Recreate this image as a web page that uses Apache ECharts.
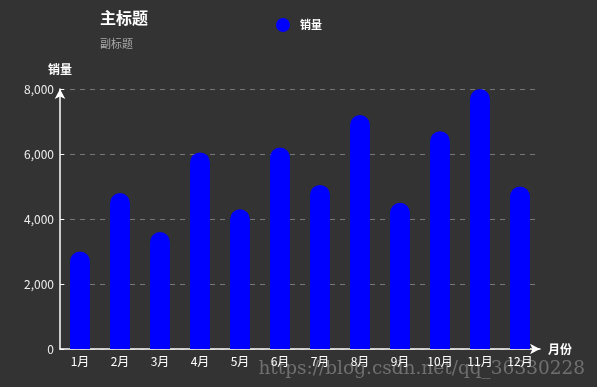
<!DOCTYPE html>
<html>
<head>
<meta charset="utf-8">
<script src="https://cdn.jsdelivr.net/npm/echarts@6/dist/echarts.min.js"></script>
<style>html,body{margin:0;padding:0;background:#333;}#main{width:597px;height:387px;}</style>
</head>
<body>
<div id="main"></div>
<script>
var categories = ['1月','2月','3月','4月','5月','6月','7月','8月','9月','10月','11月','12月'];
var salesValues = [3000, 4800, 3600, 6050, 4300, 6200, 5050, 7200, 4500, 6700, 8000, 5000];
var yTicks = [0, 2000, 4000, 6000, 8000];

var chart = echarts.init(document.getElementById('main'));
var font = '"Noto Sans CJK SC", "Noto Sans", sans-serif';
chart.setOption({
  backgroundColor: '#333',
  animation: false,
  textStyle: { fontFamily: font },
  title: {
    text: '主标题', subtext: '副标题', left: 95, top: 5,
    itemGap: 12,
    textStyle: { color: '#fff', fontSize: 16, fontWeight: 'bold', fontFamily: font },
    subtextStyle: { color: '#aaa', fontSize: 11, fontFamily: font }
  },
  legend: {
    data: ['销量'], left: 271, top: 13, icon: 'circle',
    itemWidth: 14, itemHeight: 14, itemGap: 10,
    textStyle: { color: '#fff', fontSize: 11, fontWeight: 'bold', fontFamily: font, padding: [0, 0, 0, 5] }
  },
  grid: { left: 60, right: 57, top: 89, bottom: 38, containLabel: false },
  xAxis: {
    type: 'category', data: categories, name: '月份',
    nameGap: 8,
    nameTextStyle: { color: '#fff', fontSize: 12, fontWeight: 'bold', fontFamily: font },
    axisLine: { symbol: ['none', 'arrow'], symbolSize: [8, 10], lineStyle: { color: '#fff', width: 1.5 } },
    axisTick: { inside: true, length: 5, lineStyle: { color: '#fff' } },
    axisLabel: { color: '#fff', fontSize: 12, margin: 6, fontFamily: font }
  },
  yAxis: {
    type: 'value', name: '销量', min: 0, max: 8000, interval: 2000,
    nameGap: 14,
    nameTextStyle: { color: '#fff', fontSize: 12, fontWeight: 'bold', fontFamily: font },
    axisLine: { show: true, symbol: ['none', 'arrow'], symbolSize: [8, 10], lineStyle: { color: '#fff', width: 1.5 } },
    axisTick: { show: true, inside: true, length: 4, lineStyle: { color: '#fff' } },
    axisLabel: { color: '#eee', fontSize: 12, margin: 6, fontFamily: font,
      formatter: function (v) { return yTicks.indexOf(v) >= 0 ? v.toLocaleString('en-US') : ''; } },
    splitLine: { lineStyle: { color: '#777', type: [5, 5] } }
  },
  series: [{
    name: '销量', type: 'bar', data: salesValues, barWidth: 20,
    itemStyle: { color: '#0000ff', borderRadius: [10, 10, 0, 0] }
  }],
  graphic: [{
    type: 'text', right: 12, bottom: 8,
    style: { text: 'https://blog.csdn.net/qq_36330228', fill: 'rgba(160,160,160,0.55)', font: '18.5px "DejaVu Serif", "Liberation Serif", serif' }
  }]
});
</script>
</body>
</html>
